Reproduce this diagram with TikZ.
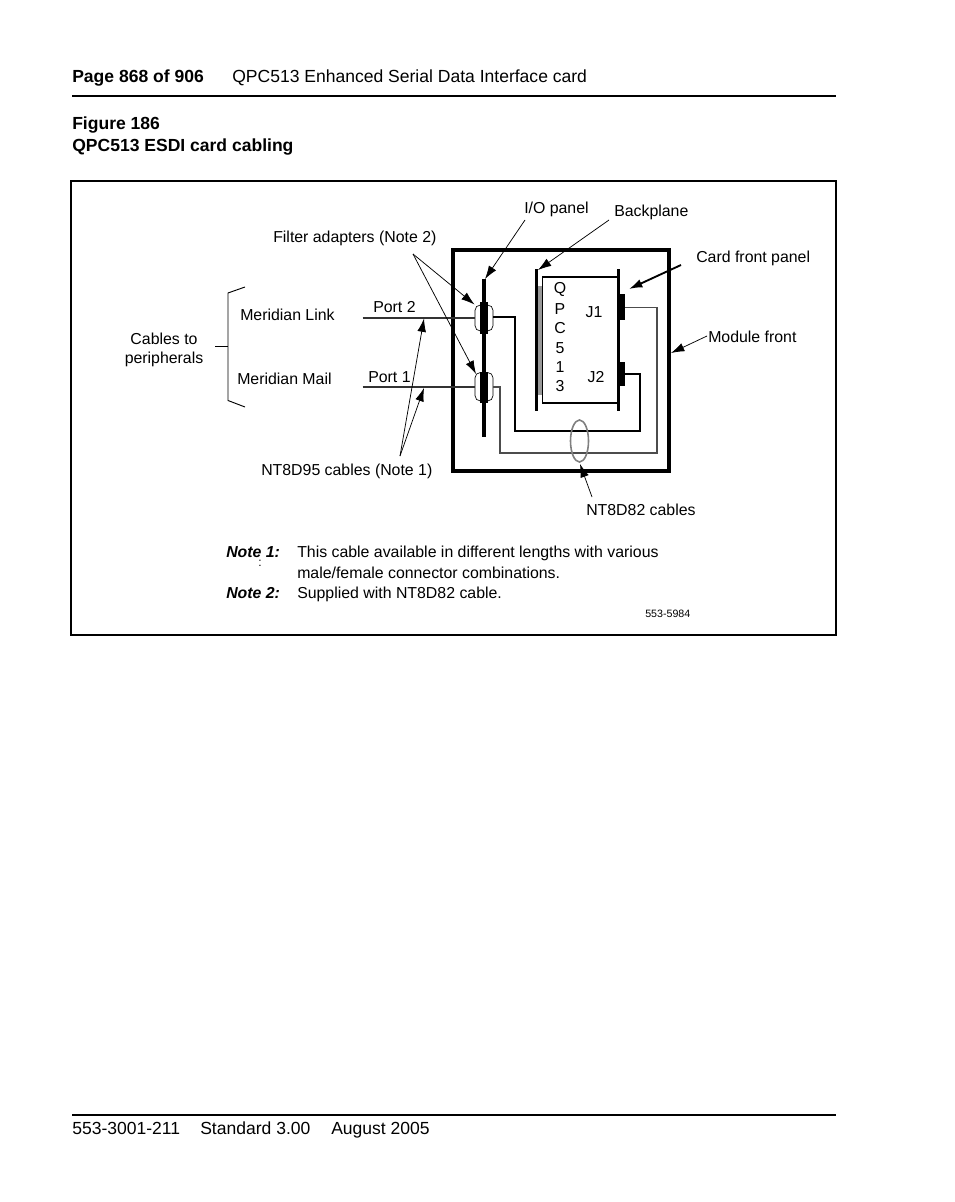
\documentclass[tikz,border=0pt]{standalone}
\usepackage{fontspec}
\setmainfont{Liberation Sans}
\usetikzlibrary{arrows.meta}
\tikzset{
	lbl/.style={inner sep=0pt, anchor=base, font=\fontsize{11.9}{14}\selectfont},
	lblw/.style={lbl, anchor=base west},
	head/.style={inner sep=0pt, anchor=base west, font=\fontsize{13.15}{15}\selectfont},
	pointer/.style={-{Latex[length=10pt,width=6.5pt]}, line width=0.55pt},
	cable/.style={line width=1.5pt, line join=miter},
}
\begin{document}
\begin{tikzpicture}[x=0.75pt, y=-0.75pt]
	\useasboundingbox (0,0) rectangle (954,1202);
	\fill[white] (0,0) rectangle (954,1202);
	% page head and foot
	\coordinate (HL) at (72,96);
	\coordinate (HR) at (836,96);
	\coordinate (FL) at (72,1115);
	\coordinate (FR) at (836,1115);
	\draw[line width=1.5pt] (HL) -- (HR);
	\draw[line width=1.5pt] (FL) -- (FR);
	\node[head] (pagenum) at (72,82.5) {\bfseries Page 868 of 906};
	\node[head] (pagetitle) at (232,82.5) {QPC513 Enhanced Serial Data Interface card};
	\node[head] (figno) at (72,129.5) {\bfseries Figure 186};
	\node[head] (figtitle) at (72,151.5) {\bfseries QPC513 ESDI card cabling};
	\node[head] (docnum) at (72,1134) {553-3001-211};
	\node[head] (docstd) at (200,1134) {Standard 3.00};
	\node[head] (docdate) at (331,1134) {August 2005};
	% frame and module
	\draw[line width=1.5pt] (71,181) rectangle (836,635);
	\draw[line width=3pt] (452.5,250) rectangle (669,470.5);
	% panels and card
	\coordinate (IOT) at (484,279);
	\coordinate (IOB) at (484,437);
	\coordinate (BPT) at (536.5,269);
	\coordinate (BPB) at (536.5,411);
	\coordinate (CFT) at (618.5,269);
	\coordinate (CFB) at (618.5,411);
	\fill[black!40] (538,286) rectangle (542.5,395);
	\draw[line width=0.8pt] (618,277) -- (542.5,277) -- (542.5,403);
	\draw[line width=1.2pt] (542,403) -- (618,403);
	\draw[line width=2.5pt] (IOT) -- (IOB);
	\draw[line width=2.7pt] (BPT) -- (BPB);
	\draw[line width=2.7pt] (CFT) -- (CFB);
	\fill (618,294) rectangle (624.5,320);
	\fill (618,362) rectangle (624.5,386);
	% filter adapters
	\fill (480,302) rectangle (487.5,334);
	\fill (480,372) rectangle (487.5,403);
	\draw[line width=0.5pt, rounded corners=4pt] (475,305) rectangle (493,331);
	\draw[line width=0.5pt, rounded corners=4pt] (475,372.5) rectangle (493,401);
	% cables
	\draw[cable, black!80] (362.5,317.5) -- (475,317.5);
	\draw[cable, black!80] (362.5,387) -- (475,387);
	\draw[cable] (493,317) -- (515,317) -- (515,431) -- (640,431) -- (640,374) -- (624.5,374);
	\draw[cable, line width=1.2pt, black!70] (493,387) -- (500,387) -- (500,453) -- (657,453) -- (657,307.5) -- (624.5,307.5);
	\draw[black!50, line width=1.2pt] (579.5,441) ellipse (9 and 21);
	% bracket
	\draw[line width=0.7pt] (245,287) -- (228,293) -- (228,400.5) -- (245,407);
	\draw[line width=0.7pt] (215,346) -- (228,346);
	% pointers
	\coordinate (FA) at (413,254);
	\coordinate (NC) at (400,456);
	\draw[pointer] (525,220) -- (485,279);
	\draw[pointer] (609,220) -- (538,270);
	\draw[pointer, line width=1.4pt] (681,265) -- (629,289);
	\draw[pointer] (707,336) -- (671,353);
	\draw[pointer] (FA) -- (474.5,304.5);
	\draw[pointer] (FA) -- (476,374);
	\draw[pointer] (NC) -- (424,318.5);
	\draw[pointer] (NC) -- (424,388);
	\draw[pointer] (592,497) -- (580,464);
	% labels
	\node[lblw] (iopanel) at (524,214) {I/O panel};
	\node[lblw] (backplane) at (614,216) {Backplane};
	\node[lblw] (filters) at (273,242) {Filter adapters (Note 2)};
	\node[lblw] (cardfront) at (696,262) {Card front panel};
	\node[lblw] (modfront) at (708,342) {Module front};
	\node[lblw] (merlink) at (240,320) {Meridian Link};
	\node[lblw] (mermail) at (237,384) {Meridian Mail};
	\node[lblw] (port2) at (373,312) {Port 2};
	\node[lblw] (port1) at (368,382) {Port 1};
	\node[lbl] (cables) at (164,344) {Cables to};
	\node[lbl] (periph) at (164,363) {peripherals};
	\node[lblw] (nt95) at (261,475) {NT8D95 cables (Note 1)};
	\node[lblw] (nt82) at (586,515) {NT8D82 cables};
	\node[lbl] (jone) at (594,317) {J1};
	\node[lbl] (jtwo) at (596,382) {J2};
	\foreach \ch/\yy in {Q/293,P/314,C/333,5/353,1/372,3/391}
		\node[lbl] (card\ch) at (560,\yy) {\ch};
	% notes
	\node[lblw] (noteone) at (226,557) {\bfseries\itshape Note 1:};
	\node[lblw] (notetwo) at (226,598) {\bfseries\itshape Note 2:};
	\node[lblw] (textone) at (297,557) {This cable available in different lengths with various};
	\node[lblw] (textonb) at (297,578) {male/female connector combinations.};
	\node[lblw] (texttwo) at (297,598) {Supplied with NT8D82 cable.};
	\node[lbl, font=\fontsize{9}{10}\selectfont] (stray) at (260,566.5) {:};
	\node[lblw, font=\fontsize{8}{9}\selectfont] (artnum) at (645,617) {553-5984};
\end{tikzpicture}
\end{document}
